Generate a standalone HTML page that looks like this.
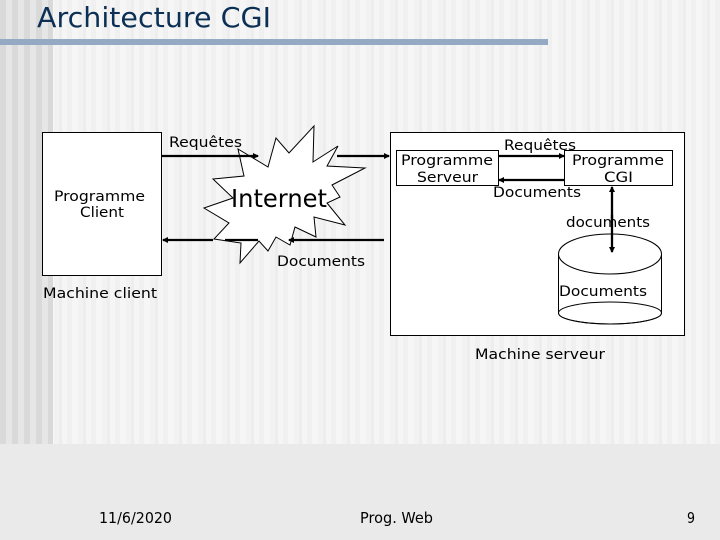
<!DOCTYPE html>
<html>
<head>
<meta charset="utf-8">
<style>
html,body{margin:0;padding:0;background:#eaeaea}
#s{position:relative;width:720px;height:540px;overflow:hidden;background:#eaeaea}
#bg{position:absolute;left:0;top:0;width:720px;height:444px;background:
 repeating-linear-gradient(90deg,#f6f6f6 0 6px,#f2f2f2 6px 11px,#ededed 11px 14px,#f5f5f5 14px 19px,#f0f0f0 19px 24px)}
#lf{position:absolute;left:0;top:0;width:53px;height:444px;background:
 repeating-linear-gradient(90deg,#d9d9d9 0 6px,#e6e6e6 6px 12px)}
svg{position:absolute;left:0;top:0}
text{font-family:"DejaVu Sans","Liberation Sans",sans-serif;font-size:14.5px;fill:#000}
</style>
</head>
<body>
<div id="s">
<div id="bg"></div><div id="lf"></div>
<svg width="720" height="540" viewBox="0 0 720 540">
<defs>
<marker id="a" markerUnits="userSpaceOnUse" markerWidth="7" markerHeight="8" refX="5" refY="4" orient="auto"><path d="M0 1L6 4L0 7Z" fill="#000"/></marker>
</defs>
<rect x="0" y="39" width="548" height="6" fill="#94a9c3"/>
<text x="37" y="27" textLength="234" lengthAdjust="spacingAndGlyphs" style="font-size:28px;fill:#0b2f55">Architecture CGI</text>

<rect x="42.5" y="132.5" width="119" height="143" fill="#fff" stroke="#000"/>
<rect x="390.5" y="132.5" width="294" height="203" fill="#fff" stroke="#000"/>
<rect x="396.5" y="150.5" width="102" height="35" fill="#fff" stroke="#000"/>
<rect x="564.5" y="150.5" width="108" height="35" fill="#fff" stroke="#000"/>

<polygon fill="#fff" stroke="#000" points="314,126 289,153 276,138 268,167 238,149 244,176 213,179 233,198 204,208 229,223 214,239 241,243 240,263 259,241 268,251 276,237 290,245 295,227 316,237 314,217 345,225 327,203 340,197 332,185 365,168 327,166 338,146 313,162"/>

<g stroke="#000" stroke-width="2.3" fill="none">
<line x1="162" y1="156" x2="258" y2="156" marker-end="url(#a)"/>
<line x1="337" y1="156" x2="389" y2="156" marker-end="url(#a)"/>
<line x1="384" y1="240" x2="289" y2="240" marker-end="url(#a)"/>
<line x1="213" y1="240" x2="163" y2="240" marker-end="url(#a)"/>
<line x1="225" y1="240" x2="258" y2="240"/>
<line x1="499" y1="156" x2="564" y2="156" marker-end="url(#a)"/>
<line x1="564" y1="180" x2="499" y2="180" marker-end="url(#a)"/>
<line x1="612" y1="220" x2="612" y2="187" marker-end="url(#a)"/>
</g>

<g stroke="#000" fill="none">
<path d="M558.5 254V313A51.5 11 0 0 0 661.5 313V254"/>
<ellipse cx="610" cy="254" rx="51.5" ry="20"/>
<ellipse cx="610" cy="313" rx="51.5" ry="11"/>
</g>
<line x1="612" y1="215" x2="612" y2="252" stroke="#000" stroke-width="2.3" marker-end="url(#a)"/>

<text x="169" y="147" textLength="73" lengthAdjust="spacingAndGlyphs">Requêtes</text>
<text x="54" y="201" textLength="91" lengthAdjust="spacingAndGlyphs">Programme</text>
<text x="80" y="217" textLength="44" lengthAdjust="spacingAndGlyphs">Client</text>
<text x="43" y="298" textLength="114" lengthAdjust="spacingAndGlyphs">Machine client</text>
<text x="231" y="207" textLength="96" lengthAdjust="spacingAndGlyphs" style="font-size:25px">Internet</text>
<text x="277" y="266" textLength="88" lengthAdjust="spacingAndGlyphs">Documents</text>
<text x="401" y="165" textLength="92" lengthAdjust="spacingAndGlyphs">Programme</text>
<text x="417" y="182" textLength="61" lengthAdjust="spacingAndGlyphs">Serveur</text>
<text x="504" y="150" textLength="72" lengthAdjust="spacingAndGlyphs">Requêtes</text>
<text x="572" y="165" textLength="92" lengthAdjust="spacingAndGlyphs">Programme</text>
<text x="604" y="182" textLength="29" lengthAdjust="spacingAndGlyphs">CGI</text>
<text x="493" y="197" textLength="88" lengthAdjust="spacingAndGlyphs">Documents</text>
<text x="566" y="227" textLength="84" lengthAdjust="spacingAndGlyphs">documents</text>
<text x="559" y="296" textLength="88" lengthAdjust="spacingAndGlyphs">Documents</text>
<text x="475" y="359" textLength="130" lengthAdjust="spacingAndGlyphs">Machine serveur</text>

<text x="99" y="523" textLength="73" lengthAdjust="spacingAndGlyphs" style="font-size:15px">11/6/2020</text>
<text x="360" y="523" textLength="73" lengthAdjust="spacingAndGlyphs" style="font-size:15px">Prog. Web</text>
<text x="687" y="523" textLength="8" lengthAdjust="spacingAndGlyphs" style="font-size:15px">9</text>
</svg>
</div>
</body>
</html>
